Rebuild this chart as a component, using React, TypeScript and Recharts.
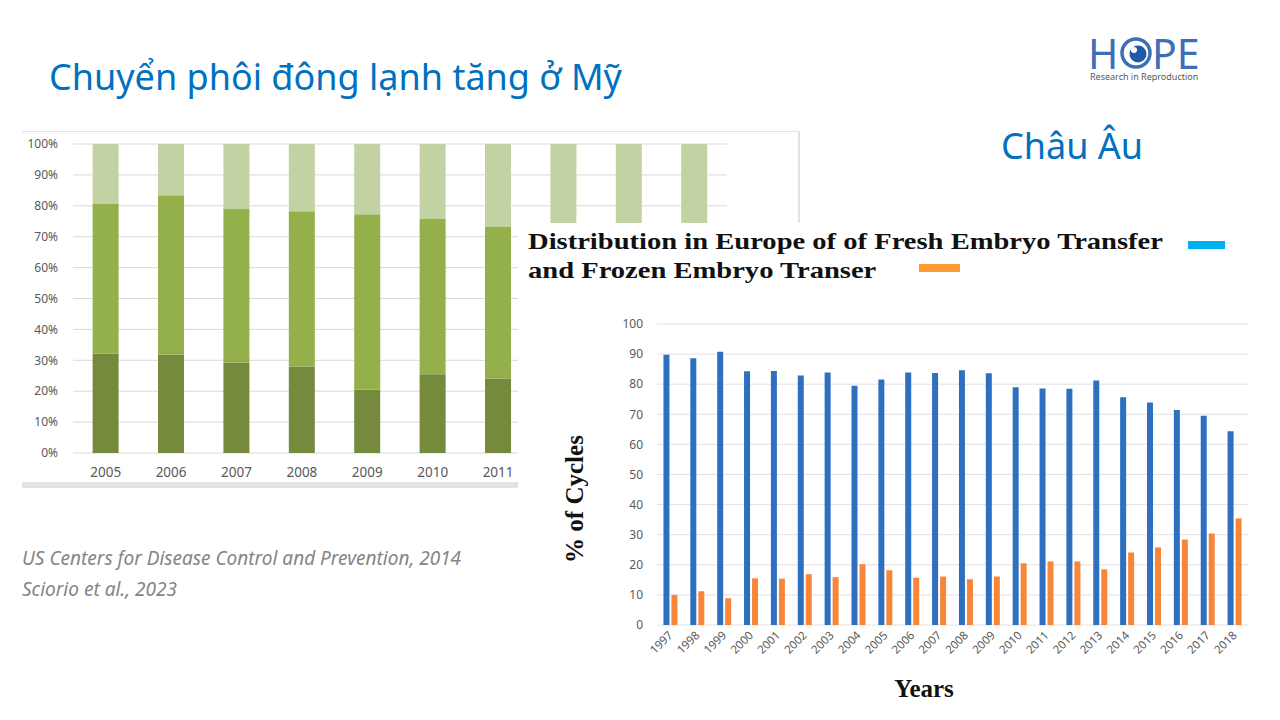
import { BarChart, Bar, XAxis, YAxis, CartesianGrid } from 'recharts';

// US (CDC) stacked shares, bottom -> top segment, in %
const usYears = ['2005', '2006', '2007', '2008', '2009', '2010', '2011', '2012', '2013', '2014'];
const usBottom = [32.2, 31.9, 29.3, 28.0, 20.5, 25.5, 24.1, 22.0, 20.0, 18.0];
const usMiddle = [48.4, 51.5, 49.7, 50.2, 56.8, 50.2, 49.0, 48.0, 47.0, 46.0];
const usTop = [19.4, 16.6, 21.0, 21.8, 22.7, 24.3, 26.9, 30.0, 33.0, 36.0];
const usTicks = [0, 10, 20, 30, 40, 50, 60, 70, 80, 90, 100];

// Europe, % of cycles
const euYears = ['1997', '1998', '1999', '2000', '2001', '2002', '2003', '2004', '2005', '2006', '2007',
    '2008', '2009', '2010', '2011', '2012', '2013', '2014', '2015', '2016', '2017', '2018'];
const euFresh = [89.8, 88.6, 90.8, 84.3, 84.4, 82.9, 83.9, 79.5, 81.6, 83.9, 83.7,
    84.6, 83.6, 79.0, 78.6, 78.5, 81.2, 75.7, 73.9, 71.4, 69.5, 64.4];
const euFrozen = [10.0, 11.2, 8.9, 15.5, 15.4, 16.9, 15.9, 20.2, 18.2, 15.7, 16.1,
    15.2, 16.1, 20.5, 21.1, 21.1, 18.5, 24.1, 25.8, 28.4, 30.4, 35.4];
const euTicks = [0, 10, 20, 30, 40, 50, 60, 70, 80, 90, 100];

const usData = usYears.map((year, i) => ({
    year,
    bottom: usBottom[i],
    middle: usMiddle[i],
    top: usTop[i],
}));

const euData = euYears.map((year, i) => ({
    year,
    fresh: euFresh[i],
    frozen: euFrozen[i],
}));

const sans = '"Noto Sans", "Open Sans", sans-serif';
const serif = '"Liberation Serif", "DejaVu Serif", serif';
const blue = '#0070C0';

// left edge of the Europe picture that is laid over the US chart
const overlayLeft = 518;

// US year labels; the ones under the Europe picture are hidden, as on the slide
const UsTick = ({ x, y, payload }: any) => {
    if (x > overlayLeft) return null;
    return (
        <text x={x} y={y} dy="0.71em" textAnchor="middle" fontSize={13.5} fontFamily={sans} fill="#595959">
            {payload.value}
        </text>
    );
};

// rotated year labels under the Europe chart
const RotatedTick = ({ x, y, payload }: any) => (
    <text
        x={x + 3}
        y={y + 11}
        transform={`rotate(-45 ${x + 3} ${y + 11})`}
        textAnchor="end"
        fontSize={11.5}
        fontFamily={sans}
        fill="#595959"
    >
        {payload.value}
    </text>
);

function HopeLogo() {
    const letter = { fontFamily: sans, fontSize: 41, color: '#3D6FB6', lineHeight: '30px' };
    return (
        <div style={{ position: 'absolute', left: 1088, top: 38, width: 120, height: 46 }}>
            <div style={{ ...letter, position: 'absolute', left: 0, top: 0 }}>H</div>
            <svg width={34} height={34} style={{ position: 'absolute', left: 31, top: -2 }}>
                <circle cx={17} cy={17} r={14} fill="none" stroke="#3D6FB6" strokeWidth={3.5} />
                <circle cx={19} cy={18} r={8.5} fill="#1F5AA6" />
                <circle cx={15} cy={14} r={3} fill="#ffffff" />
            </svg>
            <div style={{ ...letter, position: 'absolute', left: 64, top: 0 }}>PE</div>
            <div style={{ position: 'absolute', left: 2, top: 34, fontFamily: sans, fontSize: 9, lineHeight: '10px', color: '#595959', whiteSpace: 'nowrap' }}>
                Research in Reproduction
            </div>
        </div>
    );
}

export default function App() {
    return (
        <div style={{ position: 'fixed', left: 0, top: 0, width: 1280, height: 720, background: '#ffffff', overflow: 'hidden' }}>
            {/* slide title */}
            <div style={{ position: 'absolute', left: 49, top: 53, fontFamily: sans, fontSize: 36, lineHeight: '48px', color: blue, whiteSpace: 'nowrap' }}>
                Chuyển phôi đông lạnh tăng ở Mỹ
            </div>
            <HopeLogo />
            <div style={{ position: 'absolute', left: 1001, top: 122, fontFamily: sans, fontSize: 36, lineHeight: '48px', color: blue, whiteSpace: 'nowrap' }}>
                Châu Âu
            </div>

            {/* US chart picture frame */}
            <div style={{ position: 'absolute', left: 22, top: 131, width: 776, height: 1, background: '#E3E3E3' }} />
            <div style={{ position: 'absolute', left: 798, top: 131, width: 2, height: 92, background: '#E3E3E3' }} />
            <div style={{ position: 'absolute', left: 22, top: 482, width: 496, height: 6, background: '#E3E3E3' }} />

            <div style={{ position: 'absolute', left: 0, top: 130 }}>
                <BarChart
                    width={740}
                    height={360}
                    data={usData}
                    margin={{ top: 14, right: 13, left: 0, bottom: 7 }}
                    barCategoryGap="30%"
                >
                    <CartesianGrid vertical={false} stroke="#D9D9D9" />
                    <XAxis
                        dataKey="year"
                        axisLine={false}
                        tickLine={false}
                        tickSize={0}
                        tickMargin={14}
                        height={30}
                        interval={0}
                        tick={<UsTick />}
                    />
                    <YAxis
                        width={73}
                        domain={[0, 100]}
                        ticks={usTicks}
                        tickFormatter={(v) => `${v}%`}
                        axisLine={false}
                        tickLine={false}
                        tickSize={0}
                        tickMargin={15}
                        tick={{ fontSize: 12, fill: '#595959', fontFamily: sans }}
                    />
                    <Bar dataKey="bottom" stackId="us" fill="#758A3D" isAnimationActive={false} />
                    <Bar dataKey="middle" stackId="us" fill="#93B04B" isAnimationActive={false} />
                    <Bar dataKey="top" stackId="us" fill="#C2D2A3" isAnimationActive={false} />
                </BarChart>
            </div>

            {/* citations */}
            <div style={{ position: 'absolute', left: 22, top: 543, fontFamily: sans, fontStyle: 'italic', fontSize: 19, color: '#858585', lineHeight: '31px', whiteSpace: 'nowrap' }}>
                <div>US Centers for Disease Control and Prevention, 2014</div>
                <div>Sciorio et al., 2023</div>
            </div>

            {/* Europe chart picture, laid over the US chart */}
            <div style={{ position: 'absolute', left: overlayLeft, top: 223, width: 762, height: 497, background: '#ffffff' }}>
                <div style={{ position: 'absolute', left: 10, top: 4, fontFamily: serif, fontWeight: 'bold', fontSize: 24, color: '#111', lineHeight: '29px', whiteSpace: 'nowrap', transform: 'scaleX(1.19)', transformOrigin: '0 0' }}>
                    <div>Distribution in Europe of of Fresh Embryo Transfer</div>
                    <div>and Frozen Embryo Transer</div>
                </div>
                <div style={{ position: 'absolute', left: 670, top: 18, width: 37, height: 8, background: '#00B0F0' }} />
                <div style={{ position: 'absolute', left: 401, top: 41, width: 41, height: 8, background: '#FF9933' }} />

                <div style={{ position: 'absolute', left: 57, top: 276, width: 0, height: 0 }}>
                    <div style={{ position: 'absolute', transform: 'translate(-50%, -50%) rotate(-90deg)', fontFamily: serif, fontWeight: 'bold', fontSize: 25, lineHeight: '28px', color: '#111', whiteSpace: 'nowrap' }}>
                        % of Cycles
                    </div>
                </div>
                <div style={{ position: 'absolute', left: 406, top: 466, width: 0, height: 0 }}>
                    <div style={{ position: 'absolute', transform: 'translate(-50%, -50%)', fontFamily: serif, fontWeight: 'bold', fontSize: 25, lineHeight: '28px', color: '#111', whiteSpace: 'nowrap' }}>
                        Years
                    </div>
                </div>

                <div style={{ position: 'absolute', left: 82, top: 87 }}>
                    <BarChart
                        width={660}
                        height={360}
                        data={euData}
                        margin={{ top: 14, right: 12, left: 0, bottom: 0 }}
                        barCategoryGap="24%"
                        barGap={2}
                    >
                        <CartesianGrid vertical={false} stroke="#E2E2E2" />
                        <XAxis
                            dataKey="year"
                            axisLine={false}
                            tickLine={false}
                            tickSize={0}
                            tickMargin={0}
                            height={45}
                            interval={0}
                            tick={<RotatedTick />}
                        />
                        <YAxis
                            width={57}
                            domain={[0, 100]}
                            ticks={euTicks}
                            axisLine={false}
                            tickLine={false}
                            tickSize={0}
                            tickMargin={14}
                            tick={{ fontSize: 12, fill: '#595959', fontFamily: sans }}
                        />
                        <Bar dataKey="fresh" fill="#2F6FC0" isAnimationActive={false} />
                        <Bar dataKey="frozen" fill="#F7863A" isAnimationActive={false} />
                    </BarChart>
                </div>
            </div>
        </div>
    );
}
